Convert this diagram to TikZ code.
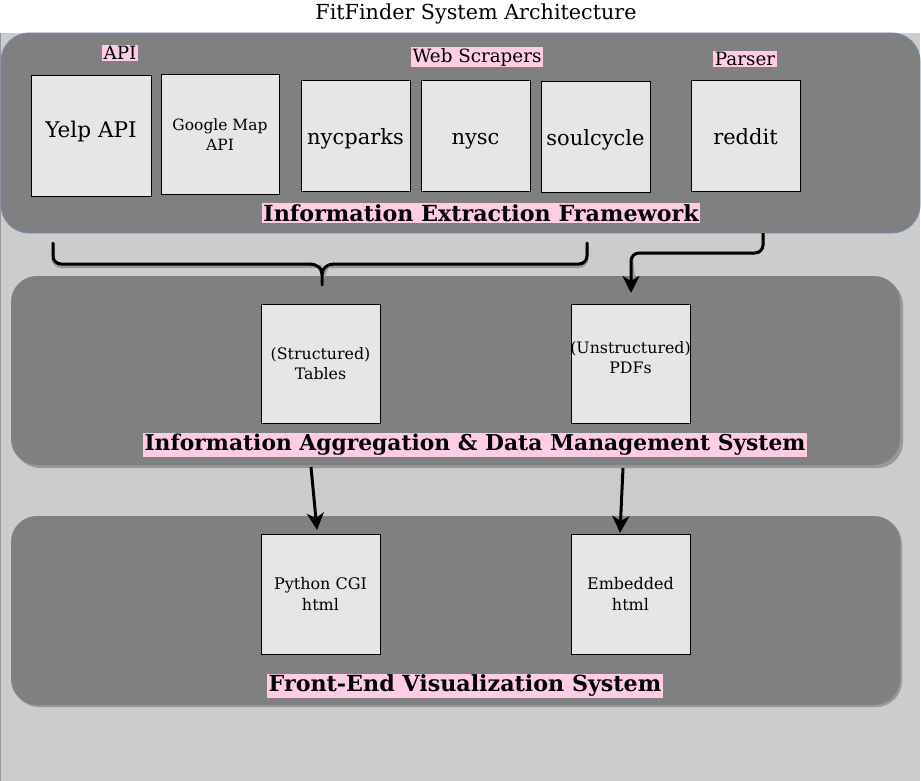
\documentclass[tikz,border=0pt]{standalone}
\usepackage{fontspec}
\setmainfont{DejaVu Serif}
\usetikzlibrary{arrows.meta}
\definecolor{bgray}{HTML}{CCCCCC}
\definecolor{pgray}{HTML}{808080}
\definecolor{sgray}{HTML}{999999}
\definecolor{boxfill}{HTML}{E6E6E6}
\definecolor{pinkbg}{HTML}{FFCCE6}
\definecolor{pborder}{HTML}{6C8EBF}
\tikzset{
  panel/.style={fill=pgray, rounded corners=28pt},
  srcbox/.style={draw=black, line width=1pt, fill=boxfill, minimum width=#1, align=center, inner sep=0pt},
  bigfont/.style={font=\fontsize{21}{24}\selectfont, text height=20pt, text depth=2pt},
  midfont/.style={font=\fontsize{15.8}{20.5}\selectfont},
  tag/.style={fill=pinkbg, inner sep=1.5pt, text=black, font=\fontsize{18.3}{21}\selectfont},
  bigtag/.style={fill=pinkbg, inner sep=1.5pt, text=black, font=\bfseries\fontsize{22.2}{25}\selectfont},
  conn/.style={line width=3pt, line cap=round, rounded corners=8pt},
  arr/.style={line width=3pt, -{Stealth[length=17pt,width=17pt,inset=5pt]}},
  shad/.style={line width=3pt, line cap=round, rounded corners=8pt, draw=sgray}
}
\begin{document}
\begin{tikzpicture}[x=1pt,y=-1pt]
\useasboundingbox (0,0) rectangle (921,781);
% background
\fill[white] (0,0) rectangle (921,781);
\fill[bgray] (0,33) rectangle (920,781);
\draw[black!40, line width=0.6pt] (0.3,33) -- (0.3,781);
% title
\node (title) at (476,14) {\fontsize{20.7}{24}\selectfont FitFinder System Architecture};
% panel 1
\draw[panel, draw=pborder, line width=0.8pt] (1,33) rectangle (920,233);
% panel 2 and 3 with shadows
\fill[sgray, rounded corners=26pt] (14,279) rectangle (903,468);
\fill[pgray, rounded corners=26pt] (11,276) rectangle (900,465);
\fill[sgray, rounded corners=26pt] (13,518) rectangle (902,707);
\fill[pgray, rounded corners=26pt] (11,516) rectangle (900,705);
% source boxes
\node[srcbox=120pt, minimum height=120pt, font=\fontsize{21.6}{25}\selectfont, text height=16pt, text depth=12pt] (yelp) at (91,136) {Yelp API};
\node[srcbox=118pt, minimum height=119pt, font=\fontsize{15.5}{20}\selectfont] (gmap) at (220,134.5) {Google Map\\API};
\node[srcbox=109pt, minimum height=110pt, bigfont] (nycparks) at (355.5,136) {nycparks};
\node[srcbox=109pt, minimum height=110pt, bigfont] (nysc) at (475.5,136) {nysc};
\node[srcbox=109pt, minimum height=110pt, bigfont] (soul) at (595.5,137) {soulcycle};
\node[srcbox=109pt, minimum height=110pt, bigfont] (reddit) at (745.5,136) {reddit};
% tags
\node[tag] (tapi) at (120,53) {API};
\node[tag] (tweb) at (477,57) {Web Scrapers};
\node[tag] (tparser) at (745,59) {Parser};
\node[bigtag] (tief) at (481,213) {Information Extraction Framework};
% panel 2 boxes
\node[srcbox=119pt, minimum height=119pt, midfont] (tables) at (320.5,363.5) {(Structured)\\Tables};
\node[srcbox=119pt, minimum height=119pt] (pdfs) at (630.5,363.5) {};
\node[align=center, inner sep=0pt, midfont] (pdfstxt) at (630.5,357.5) {(Unstructured)\\PDFs};
\node[bigtag, font=\bfseries\fontsize{21.8}{25}\selectfont] (tiadm) at (475,445) {Information Aggregation \& Data Management System};
% panel 3 boxes
\node[srcbox=119pt, minimum height=120pt, font=\fontsize{16}{20.5}\selectfont] (pycgi) at (320.5,594) {Python CGI\\html};
\node[srcbox=119pt, minimum height=120pt, font=\fontsize{16}{20.5}\selectfont] (emb) at (630.5,594) {Embedded\\html};
\node[bigtag] (tfev) at (465,686) {Front-End Visualization System};
% connector coordinates
\coordinate (bl) at (53,243);
\coordinate (br) at (587,243);
\coordinate (bm) at (322,285);
\coordinate (rs) at (763,233);
\coordinate (rc) at (631,253);
\coordinate (rt) at (631,293);
\coordinate (a1s) at (311,467);
\coordinate (a1t) at (317,530);
\coordinate (a2s) at (623,468);
\coordinate (a2t) at (620,533);
% shadows of brace and parser connector
\begin{scope}[shift={(2.5,2.5)}]
\draw[shad] (bl) |- (310,264) to[out=0,in=90] (bm);
\draw[shad] (br) |- (334,264) to[out=180,in=90] (bm);
\draw[shad] (rs) |- (rc) -- (631,275);
\end{scope}
% brace
\draw[conn] (bl) |- (310,264);
\draw[conn] (br) |- (334,264);
\draw[line width=3pt, line cap=round] (310,264) to[out=0,in=90] (322,274) -- (bm);
\draw[line width=3pt, line cap=round] (334,264) to[out=180,in=90] (322,274);
% parser arrow
\draw[line width=3pt, rounded corners=8pt, -{Stealth[length=17pt,width=17pt,inset=5pt]}] (rs) |- (rc) -- (rt);
% down arrows
\draw[arr] (a1s) -- (a1t);
\draw[arr] (a2s) -- (a2t);
\end{tikzpicture}
\end{document}
